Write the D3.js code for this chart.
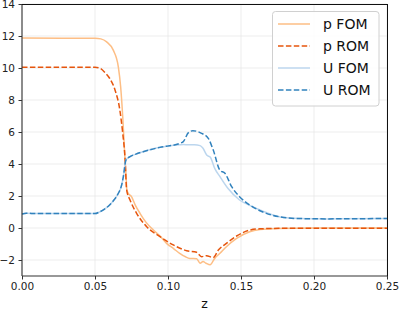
<!DOCTYPE html>
<html>
<head>
<meta charset="utf-8">
<script src="https://cdn.jsdelivr.net/npm/d3@7"></script>
<style>
  body { margin: 0; background: #fff; }
  svg { display: block; font-family: "DejaVu Sans", sans-serif; }
</style>
</head>
<body>
<svg id="chart" width="399" height="312"></svg>
<script>
// data
const pFomZ = [0, 0.05, 0.054, 0.058, 0.0626, 0.066, 0.0676, 0.069, 0.0702, 0.0712, 0.0718, 0.0728, 0.075, 0.0775, 0.0808, 0.085, 0.090, 0.095, 0.099, 0.104, 0.108, 0.112, 0.115, 0.1196, 0.122, 0.124, 0.126, 0.1288, 0.132, 0.1356, 0.140, 0.147, 0.156, 0.163, 0.175, 0.20, 0.25];
const pFomY = [11.87, 11.86, 11.82, 11.63, 11.1, 10.06, 8.8, 6.94, 4.86, 3.4, 2.4, 2.17, 1.96, 1.45, 0.92, 0.35, -0.13, -0.55, -0.96, -1.3, -1.58, -1.8, -1.9, -1.92, -2.2, -2.1, -2.2, -2.3, -1.9, -1.58, -1.17, -0.65, -0.23, -0.1, -0.03, 0, 0];

const pRomZ = [0, 0.05, 0.0534, 0.057, 0.060, 0.0637, 0.067, 0.069, 0.0705, 0.0717, 0.074, 0.0785, 0.0854, 0.0945, 0.1036, 0.1128, 0.1196, 0.123, 0.1263, 0.131, 0.1345, 0.140, 0.147, 0.156, 0.163, 0.18, 0.25];
const pRomY = [10.05, 10.04, 9.98, 9.7, 9.36, 8.63, 7.38, 5.92, 4.46, 2.37, 1.75, 0.92, 0.08, -0.54, -1.06, -1.42, -1.52, -1.79, -1.73, -1.85, -1.38, -0.96, -0.5, -0.13, -0.05, -0.02, -0.02];

const uFomZ = [0, 0.003, 0.01, 0.05, 0.053, 0.056, 0.060, 0.063, 0.066, 0.068, 0.0694, 0.0712, 0.074, 0.078, 0.083, 0.0945, 0.108, 0.1105, 0.114, 0.118, 0.122, 0.124, 0.1265, 0.129, 0.132, 0.1356, 0.141, 0.149, 0.158, 0.165, 0.177, 0.19, 0.21, 0.25];
const uFomY = [0.88, 0.92, 0.9, 0.9, 1.0, 1.15, 1.44, 1.75, 2.17, 2.6, 3.2, 4.25, 4.46, 4.62, 4.77, 5.04, 5.2, 5.22, 5.2, 5.2, 5.15, 4.98, 4.56, 4.42, 3.73, 3.21, 2.48, 1.75, 1.33, 1.05, 0.69, 0.59, 0.57, 0.6];

const uRomZ = [0, 0.003, 0.01, 0.05, 0.053, 0.056, 0.060, 0.063, 0.066, 0.068, 0.0694, 0.0712, 0.074, 0.078, 0.083, 0.0945, 0.108, 0.1105, 0.114, 0.117, 0.123, 0.1276, 0.131, 0.1356, 0.139, 0.1436, 0.149, 0.156, 0.163, 0.177, 0.19, 0.21, 0.25];
const uRomY = [0.88, 0.92, 0.9, 0.9, 1.0, 1.15, 1.44, 1.75, 2.17, 2.6, 3.2, 4.25, 4.46, 4.62, 4.77, 5.04, 5.29, 5.4, 5.96, 6.08, 5.92, 5.6, 4.87, 3.6, 3.42, 2.58, 1.96, 1.44, 1.08, 0.69, 0.59, 0.57, 0.6];

const xTicks = [0, 0.05, 0.10, 0.15, 0.20, 0.25];
const yTicks = [-2, 0, 2, 4, 6, 8, 10, 12, 14];

const series = [
  { name: "p FOM", z: pFomZ, y: pFomY, color: "#fdbe85", dash: null },
  { name: "p ROM", z: pRomZ, y: pRomY, color: "#e6550d", dash: "5.5,2.4" },
  { name: "U FOM", z: uFomZ, y: uFomY, color: "#bcd6ee", dash: null },
  { name: "U ROM", z: uRomZ, y: uRomY, color: "#3182bd", dash: "5.5,2.4" }
];

// layout
const plotLeft = 22, plotRight = 387, plotTop = 4, plotBottom = 276;
const svg = d3.select('#chart');

const x = d3.scaleLinear().domain([0, 0.25]).range([plotLeft, plotRight]);
const y = d3.scaleLinear().domain([-3, 14]).range([plotBottom, plotTop]);

// grid
svg.append('g')
  .selectAll('line')
  .data(xTicks)
  .enter()
  .append('line')
  .attr('x1', d => x(d)).attr('x2', d => x(d))
  .attr('y1', plotTop).attr('y2', plotBottom)
  .attr('stroke', '#e8e8e8').attr('stroke-width', 0.8);

svg.append('g')
  .selectAll('line')
  .data(yTicks)
  .enter()
  .append('line')
  .attr('x1', plotLeft).attr('x2', plotRight)
  .attr('y1', d => y(d)).attr('y2', d => y(d))
  .attr('stroke', '#e8e8e8').attr('stroke-width', 0.8);

// lines
const line = d3.line()
  .x(d => x(d[0]))
  .y(d => y(d[1]))
  .curve(d3.curveMonotoneX);

svg.append('g')
  .selectAll('path')
  .data(series)
  .enter()
  .append('path')
  .attr('d', s => line(s.z.map((z, i) => [z, s.y[i]])))
  .attr('fill', 'none')
  .attr('stroke', s => s.color)
  .attr('stroke-width', 1.5)
  .attr('stroke-dasharray', s => s.dash);

// axes
const xAxis = d3.axisBottom(x)
  .tickValues(xTicks)
  .tickFormat(d3.format('.2f'))
  .tickSizeOuter(0)
  .tickSize(3.5)
  .tickPadding(3.5);

const yAxis = d3.axisLeft(y)
  .tickValues(yTicks)
  .tickFormat(d => d < 0 ? '\u2212' + Math.abs(d) : d)
  .tickSizeOuter(0)
  .tickSize(3.5)
  .tickPadding(3.5);

svg.append('g')
  .attr('transform', `translate(0, ${plotBottom})`)
  .call(xAxis)
  .call(g => g.select('.domain').remove());

svg.append('g')
  .attr('transform', `translate(${plotLeft}, 0)`)
  .call(yAxis)
  .call(g => g.select('.domain').remove());

svg.selectAll('.tick text')
  .attr('font-size', 10.5)
  .attr('font-family', '"DejaVu Sans", sans-serif')
  .attr('fill', '#222');
svg.selectAll('.tick line').attr('stroke', '#333');

// frame: left/bottom soft, top/right crisp
svg.append('line')
  .attr('x1', plotLeft).attr('x2', plotLeft)
  .attr('y1', plotTop).attr('y2', plotBottom)
  .attr('stroke', '#333').attr('stroke-width', 1.1);
svg.append('line')
  .attr('x1', plotLeft).attr('x2', plotRight)
  .attr('y1', plotBottom).attr('y2', plotBottom)
  .attr('stroke', '#333').attr('stroke-width', 1.1);
svg.append('line')
  .attr('x1', plotLeft).attr('x2', plotRight + 0.5)
  .attr('y1', plotTop + 0.5).attr('y2', plotTop + 0.5)
  .attr('stroke', '#111').attr('stroke-width', 1);
svg.append('line')
  .attr('x1', plotRight + 0.5).attr('x2', plotRight + 0.5)
  .attr('y1', plotTop).attr('y2', plotBottom)
  .attr('stroke', '#111').attr('stroke-width', 1);

// x label
svg.append('text')
  .attr('x', (plotLeft + plotRight) / 2)
  .attr('y', 308)
  .attr('text-anchor', 'middle')
  .attr('font-size', 12.5)
  .attr('fill', '#111')
  .text('z');

// legend
const legend = svg.append('g');
legend.append('rect')
  .attr('x', 272.5).attr('y', 11.5)
  .attr('width', 106.5).attr('height', 94.5)
  .attr('rx', 3)
  .attr('fill', 'white').attr('fill-opacity', 0.85)
  .attr('stroke', '#d0d0d0');

const rows = legend.selectAll('g.row')
  .data(series)
  .enter()
  .append('g')
  .attr('class', 'row')
  .attr('transform', (d, i) => `translate(0, ${24 + i * 22})`);

rows.append('line')
  .attr('x1', 278).attr('x2', 310)
  .attr('stroke', s => s.color)
  .attr('stroke-width', 1.5)
  .attr('stroke-dasharray', s => s.dash);

rows.append('text')
  .attr('x', 323)
  .attr('y', 5)
  .attr('font-size', 14)
  .attr('fill', '#111')
  .text(s => s.name);
</script>
</body>
</html>
